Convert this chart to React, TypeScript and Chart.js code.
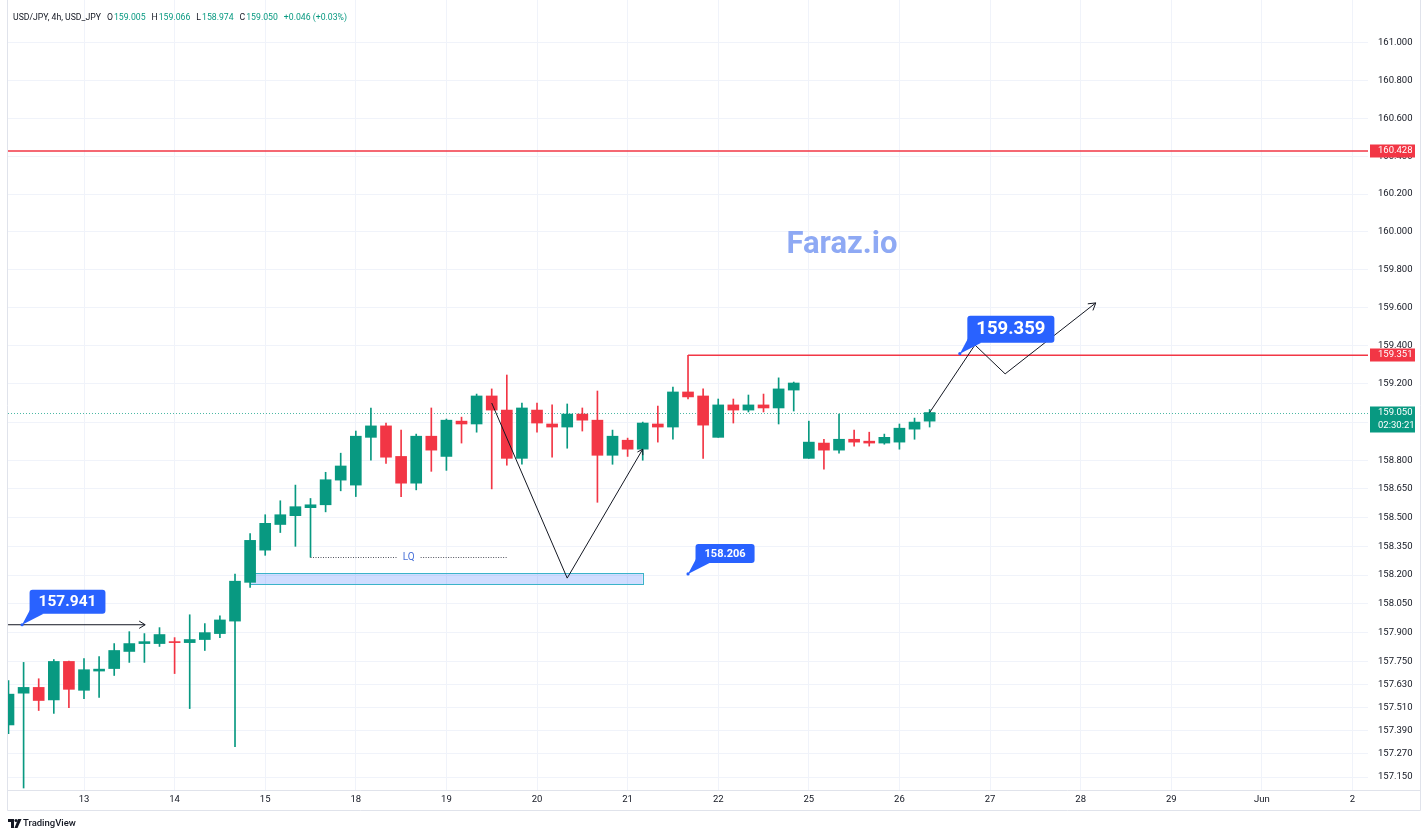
import React, { useEffect, useRef } from "react";
import { Chart, registerables } from "chart.js";

Chart.register(...registerables);

// ---- data ----
const FIRST_BAR = -5;
const opens = [
  157.42, 157.585, 157.615, 157.55, 157.75,
  157.6, 157.7, 157.713, 157.802, 157.843, 157.843,
  157.853, 157.848, 157.864, 157.895, 157.96, 158.162,
  158.33, 158.464, 158.51, 158.552, 158.567, 158.696,
  158.67, 158.92, 158.98, 158.82, 158.68, 158.926,
  158.82, 159.005, 158.99, 159.137, 159.063, 158.81,
  159.063, 158.99, 158.974, 159.042, 159.01, 158.826,
  158.905, 158.858, 158.99, 158.974, 159.158, 159.137,
  158.92, 159.09, 159.063, 159.09, 159.074, 159.168,
  158.81, 158.89, 158.853, 158.91, 158.9, 158.89,
  158.895, 158.963, 159.005,
];
const highs = [
  157.65, 157.745, 157.66, 157.76, 157.752,
  157.765, 157.775, 157.843, 157.905, 157.895, 157.926,
  157.874, 157.993, 157.947, 157.987, 158.205, 158.417,
  158.515, 158.588, 158.67, 158.6, 158.737, 158.837,
  158.953, 159.074, 158.995, 158.958, 158.937, 159.074,
  159.016, 159.026, 159.147, 159.174, 159.247, 159.1,
  159.1, 159.09, 159.095, 159.074, 159.163, 158.958,
  158.916, 159.0, 159.084, 159.184, 159.351, 159.174,
  159.121, 159.121, 159.142, 159.147, 159.232, 159.21,
  159.005, 158.91, 159.042, 158.958, 158.947, 158.937,
  158.99, 159.021, 159.066,
];
const lows = [
  157.375, 157.093, 157.495, 157.48, 157.51,
  157.557, 157.563, 157.677, 157.745, 157.745, 157.828,
  157.687, 157.505, 157.807, 157.874, 157.307, 158.136,
  158.303, 158.422, 158.35, 158.293, 158.53, 158.64,
  158.61, 158.8, 158.784, 158.61, 158.645, 158.742,
  158.747, 158.89, 158.947, 158.65, 158.774, 158.779,
  158.947, 158.816, 158.863, 158.953, 158.58, 158.779,
  158.82, 158.8, 158.895, 158.91, 159.121, 158.81,
  158.92, 158.995, 159.053, 159.053, 158.99, 159.058,
  158.81, 158.753, 158.837, 158.874, 158.874, 158.884,
  158.858, 158.91, 158.974,
];
const closes = [
  157.58, 157.615, 157.547, 157.75, 157.605,
  157.707, 157.71, 157.807, 157.843, 157.853, 157.89,
  157.848, 157.864, 157.9, 157.966, 158.168, 158.381,
  158.47, 158.515, 158.557, 158.567, 158.698, 158.77,
  158.926, 158.98, 158.816, 158.68, 158.926, 158.853,
  159.01, 158.99, 159.137, 159.063, 158.81, 159.074,
  158.995, 158.974, 159.042, 159.01, 158.826, 158.926,
  158.858, 158.995, 158.974, 159.158, 159.132, 158.984,
  159.09, 159.063, 159.09, 159.074, 159.174, 159.205,
  158.895, 158.853, 158.91, 158.895, 158.89, 158.92,
  158.968, 159.0, 159.05,
];

const dateTickBars = [0, 6, 12, 18, 24, 30, 36, 42, 48, 54, 60, 66, 72, 78, 84];
const dateTickLabels = ["13", "14", "15", "18", "19", "20", "21", "22", "25", "26", "27", "28", "29", "Jun", "2"];
const priceTicks = [
  161.0, 160.8, 160.6, 160.4, 160.2, 160.0, 159.8, 159.6, 159.4, 159.2, 159.0,
  158.8, 158.65, 158.5, 158.35, 158.2, 158.05, 157.9, 157.75, 157.63, 157.51,
  157.39, 157.27, 157.15,
];

const symbolTitle = "USD/JPY, 4h, USD_JPY";
const changeText = "+0.046 (+0.03%)";
const countdown = "02:30:21";
const resistanceLevel = 160.428;
const sweepHighBar = 40;
const sweepHighPrice = 159.351;
const watermark = "Faraz.io";

const X_MIN = -5.033;
const X_MAX = 85.03;
const Y_MIN = 157.0827;
const Y_MAX = 161.2284;

// drawings: [bar, price]
const markerArrow = [[-5.03, 157.941], [4.05, 157.941]];
const vPath = [[27, 159.1], [32, 158.184], [37, 158.858]];
const projection = [[56, 159.05], [59, 159.405], [61, 159.253], [67, 159.626]];
const lqFromBar = 15;
const lqToBar = 28;
const lqPrice = 158.293;
const lqText = "LQ";
const zoneFromBar = 11;
const zoneToBar = 37;
const zoneTop = 158.21;
const zoneBottom = 158.153;
const calloutBars = [-4.1, 40, 58];
const calloutPrices = [157.941, 158.206, 159.359];
const calloutFontSizes = [15.5, 11, 18.5];
const calloutHeights = [24, 19, 27];

// ---- styles ----
const UP = "#089981";
const DOWN = "#f23645";
const TEXT = "#131722";
const GRID = "#f0f3fa";
const BORDER = "#e0e3eb";
const BLUE = "#2962ff";
const FONT = "Roboto, 'Noto Sans', sans-serif";

const annotationsPlugin = {
  id: "tvAnnotations",
  beforeDatasetsDraw(chart: any) {
    const { ctx, chartArea: a, scales } = chart;
    const X = (v: number) => scales.x.getPixelForValue(v);
    const Y = (v: number) => scales.y.getPixelForValue(v);
    ctx.save();
    ctx.beginPath();
    ctx.rect(a.left, a.top, a.right - a.left, a.bottom - a.top);
    ctx.clip();
    // liquidity zone
    const zx1 = X(zoneFromBar), zx2 = X(zoneToBar);
    const zy1 = Y(zoneTop), zy2 = Y(zoneBottom);
    ctx.fillStyle = "rgba(41, 98, 255, 0.22)";
    ctx.fillRect(zx1, zy1, zx2 - zx1, zy2 - zy1);
    ctx.strokeStyle = "#3bb3c9";
    ctx.lineWidth = 1;
    ctx.strokeRect(Math.round(zx1) + 0.5, Math.round(zy1) + 0.5, Math.round(zx2 - zx1), Math.round(zy2 - zy1));
    // current price dotted line
    const ly = Math.round(Y(closes[closes.length - 1])) + 0.5;
    ctx.strokeStyle = "#4cb8a4";
    ctx.setLineDash([1, 2]);
    ctx.beginPath();
    ctx.moveTo(a.left, ly);
    ctx.lineTo(a.right, ly);
    ctx.stroke();
    ctx.setLineDash([]);
    // watermark
    ctx.fillStyle = "#8ea9f4";
    ctx.font = `bold 31px ${FONT}`;
    ctx.textAlign = "center";
    ctx.textBaseline = "middle";
    ctx.fillText(watermark, 842, 245);
    ctx.restore();
  },
  afterDatasetsDraw(chart: any) {
    const { ctx, chartArea: a, scales } = chart;
    const X = (v: number) => scales.x.getPixelForValue(v);
    const Y = (v: number) => scales.y.getPixelForValue(v);

    const arrowHead = (x1: number, y1: number, x2: number, y2: number, size: number) => {
      const ang = Math.atan2(y2 - y1, x2 - x1);
      ctx.beginPath();
      ctx.moveTo(x2 - size * Math.cos(ang - 0.55), y2 - size * Math.sin(ang - 0.55));
      ctx.lineTo(x2, y2);
      ctx.lineTo(x2 - size * Math.cos(ang + 0.55), y2 - size * Math.sin(ang + 0.55));
      ctx.stroke();
    };
    const polyline = (pts: number[][], head: number) => {
      const p = pts.map(([b, v]) => [X(b), Y(v)]);
      ctx.beginPath();
      p.forEach(([x, y], k) => (k === 0 ? ctx.moveTo(x, y) : ctx.lineTo(x, y)));
      ctx.stroke();
      if (head > 0) {
        const n = p.length;
        arrowHead(p[n - 2][0], p[n - 2][1], p[n - 1][0], p[n - 1][1], head);
      }
    };

    ctx.save();
    ctx.beginPath();
    ctx.rect(a.left, a.top, a.right - a.left, a.bottom - a.top);
    ctx.clip();

    // horizontal levels
    ctx.strokeStyle = DOWN;
    ctx.lineWidth = 1.5;
    const ry = Y(resistanceLevel);
    ctx.beginPath();
    ctx.moveTo(a.left, ry);
    ctx.lineTo(a.right, ry);
    ctx.stroke();
    const sy = Y(sweepHighPrice);
    ctx.beginPath();
    ctx.moveTo(X(sweepHighBar), sy);
    ctx.lineTo(a.right, sy);
    ctx.stroke();

    // black drawings
    ctx.strokeStyle = TEXT;
    ctx.lineWidth = 1;
    polyline(markerArrow, 7);
    polyline(vPath, 6);
    polyline(projection, 8);

    // LQ dotted line
    const lx1 = X(lqFromBar), lx2 = X(lqToBar);
    const lyy = Math.round(Y(lqPrice)) + 0.5;
    const mid = (lx1 + lx2) / 2;
    ctx.font = `10px ${FONT}`;
    const tw = ctx.measureText(lqText).width;
    ctx.strokeStyle = "#50535e";
    ctx.setLineDash([1, 1.5]);
    ctx.beginPath();
    ctx.moveTo(lx1, lyy);
    ctx.lineTo(mid - tw / 2 - 6, lyy);
    ctx.moveTo(mid + tw / 2 + 6, lyy);
    ctx.lineTo(lx2, lyy);
    ctx.stroke();
    ctx.setLineDash([]);
    ctx.fillStyle = "#4a72d9";
    ctx.textAlign = "center";
    ctx.textBaseline = "middle";
    ctx.fillText(lqText, mid, lyy);

    // callouts
    calloutBars.forEach((b, k) => {
      const px = X(b), py = Y(calloutPrices[k]);
      const text = calloutPrices[k].toFixed(3);
      ctx.font = `bold ${calloutFontSizes[k]}px ${FONT}`;
      const w = ctx.measureText(text).width + 18;
      const h = calloutHeights[k];
      const bx = px + 7.5, by = py - 11 - h;
      ctx.fillStyle = BLUE;
      ctx.beginPath();
      ctx.moveTo(px, py);
      ctx.lineTo(bx + 1, by + h - 5);
      ctx.lineTo(bx + 14, by + h);
      ctx.closePath();
      ctx.fill();
      ctx.beginPath();
      ctx.arc(px, py, 1.6, 0, Math.PI * 2);
      ctx.fill();
      ctx.beginPath();
      (ctx as any).roundRect(bx, by, w, h, 3);
      ctx.fill();
      ctx.fillStyle = "#ffffff";
      ctx.textAlign = "center";
      ctx.textBaseline = "middle";
      ctx.fillText(text, bx + w / 2, by + h / 2 + 0.5);
    });
    ctx.restore();

    // price tags on axis
    const tag = (price: number, color: string, lines: string[]) => {
      const y = Y(price);
      const h = lines.length > 1 ? 26 : 13;
      ctx.fillStyle = color;
      ctx.fillRect(a.right + 2, Math.round(y) - 6.5, 45, h);
      ctx.fillStyle = "#ffffff";
      ctx.font = `9.5px ${FONT}`;
      ctx.textAlign = "left";
      ctx.textBaseline = "middle";
      lines.forEach((t, k) => ctx.fillText(t, a.right + 10, Math.round(y) + k * 13));
    };
    tag(resistanceLevel, DOWN, [resistanceLevel.toFixed(3)]);
    tag(sweepHighPrice, DOWN, [sweepHighPrice.toFixed(3)]);
    tag(closes[closes.length - 1], UP, [closes[closes.length - 1].toFixed(3), countdown]);
  },
  afterDraw(chart: any) {
    const { ctx, chartArea: a } = chart;
    ctx.save();
    // frame lines
    ctx.strokeStyle = BORDER;
    ctx.lineWidth = 1;
    ctx.beginPath();
    ctx.moveTo(7.5, 0);
    ctx.lineTo(7.5, 810.5);
    ctx.moveTo(1420.5, 0);
    ctx.lineTo(1420.5, 810.5);
    ctx.moveTo(7.5, a.bottom + 0.5);
    ctx.lineTo(1420.5, a.bottom + 0.5);
    ctx.moveTo(7.5, 810.5);
    ctx.lineTo(1420.5, 810.5);
    ctx.stroke();

    // header legend
    const n = closes.length - 1;
    const segs: [string, string, number][] = [
      [symbolTitle, TEXT, 6],
      ["O", TEXT, 1],
      [opens[n].toFixed(3), UP, 6],
      ["H", TEXT, 1],
      [highs[n].toFixed(3), UP, 6],
      ["L", TEXT, 1],
      [lows[n].toFixed(3), UP, 6],
      ["C", TEXT, 1],
      [closes[n].toFixed(3), UP, 6],
      [changeText, UP, 0],
    ];
    ctx.font = `8.7px ${FONT}`;
    ctx.textAlign = "left";
    ctx.textBaseline = "middle";
    let x = 13;
    segs.forEach(([t, c, g]) => {
      ctx.fillStyle = c;
      ctx.fillText(t, x, 18);
      x += ctx.measureText(t).width + g;
    });

    // TradingView logo
    ctx.fillStyle = TEXT;
    ctx.fillRect(8, 819, 6, 3);
    ctx.fillRect(11, 819, 3, 9);
    ctx.beginPath();
    ctx.arc(16, 820.5, 1.5, 0, Math.PI * 2);
    ctx.fill();
    ctx.beginPath();
    ctx.moveTo(18, 819);
    ctx.lineTo(21.5, 819);
    ctx.lineTo(17.5, 828);
    ctx.lineTo(14.5, 828);
    ctx.closePath();
    ctx.fill();
    ctx.font = `500 9.5px ${FONT}`;
    ctx.fillText("TradingView", 23, 823.5);
    ctx.restore();
  },
};

export default function App() {
  const ref = useRef<HTMLCanvasElement | null>(null);
  useEffect(() => {
    if (!ref.current) return;
    const bars = opens.map((_, k) => FIRST_BAR + k);
    const colors = closes.map((c, k) => (c >= opens[k] ? UP : DOWN));
    const chart = new Chart(ref.current, {
      type: "bar",
      data: {
        datasets: [
          {
            label: "wick",
            data: bars.map((b, k) => ({ x: b, y: [lows[k], highs[k]] })) as any,
            backgroundColor: colors,
            barThickness: 1,
            grouped: false,
            order: 2,
          } as any,
          {
            label: "body",
            data: bars.map((b, k) => ({ x: b, y: [opens[k], closes[k]] })) as any,
            backgroundColor: colors,
            borderWidth: 0,
            barThickness: 11,
            minBarLength: 1,
            grouped: false,
            order: 1,
          } as any,
        ],
      },
      options: {
        animation: false,
        responsive: false,
        devicePixelRatio: 1,
        events: [],
        layout: { padding: { left: 8, right: 8, top: 0, bottom: 27 } },
        plugins: { legend: { display: false }, tooltip: { enabled: false } },
        scales: {
          x: {
            type: "linear",
            min: X_MIN,
            max: X_MAX,
            offset: false,
            bounds: "data",
            afterBuildTicks: (s: any) => {
              s.ticks = dateTickBars.map((v) => ({ value: v }));
            },
            afterFit: (s: any) => {
              s.height = 20;
              s.paddingLeft = 0;
              s.paddingRight = 0;
            },
            ticks: {
              autoSkip: false,
              maxRotation: 0,
              padding: 4,
              color: TEXT,
              font: { size: 9.5, family: FONT },
              callback: (v: any) => dateTickLabels[dateTickBars.indexOf(Number(v))] ?? "",
            },
            grid: { color: GRID, drawTicks: false, offset: false },
            border: { display: false },
          },
          y: {
            type: "logarithmic",
            position: "right",
            min: Y_MIN,
            max: Y_MAX,
            bounds: "data",
            afterBuildTicks: (s: any) => {
              s.ticks = priceTicks.map((v) => ({ value: v }));
            },
            afterFit: (s: any) => {
              s.width = 52;
              s.paddingTop = 0;
              s.paddingBottom = 0;
            },
            ticks: {
              autoSkip: false,
              padding: 10,
              color: TEXT,
              font: { size: 9.5, family: FONT },
              callback: (v: any) => Number(v).toFixed(3),
            },
            grid: { color: GRID, drawTicks: false },
            border: { display: false },
          } as any,
        },
      } as any,
      plugins: [annotationsPlugin],
    });
    return () => chart.destroy();
  }, []);
  return (
    <div style={{ position: "fixed", left: 0, top: 0, width: 1428, height: 837, background: "#ffffff" }}>
      <canvas ref={ref} width={1428} height={837} style={{ display: "block", width: 1428, height: 837 }} />
    </div>
  );
}
